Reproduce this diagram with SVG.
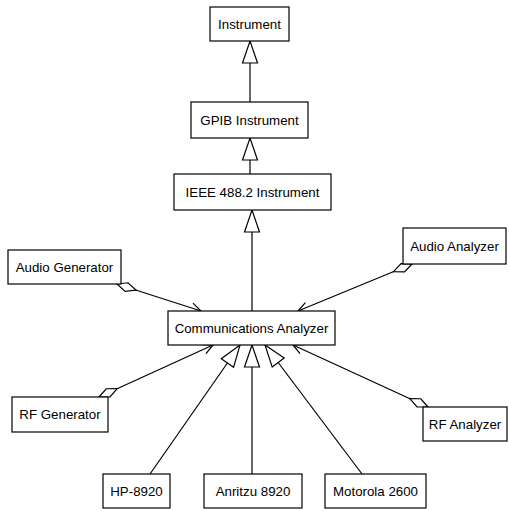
<svg xmlns="http://www.w3.org/2000/svg" width="509" height="511" viewBox="0 0 509 511">
  <style>
    .box { fill: #ffffff; stroke: #000000; stroke-width: 1.2; }
    .lbl { font-family: "Liberation Sans", Arial, sans-serif; font-size: 13.3px; fill: #000000; text-anchor: middle; }
    .gen { fill: none; stroke: #000000; stroke-width: 1.2; marker-end: url(#triangle); }
    .agg { fill: none; stroke: #000000; stroke-width: 1.2; marker-start: url(#diamond); marker-end: url(#arrow); }
  </style>
  <defs>
    <!-- hollow triangle: generalization -->
    <marker id="triangle" markerUnits="userSpaceOnUse" viewBox="0 0 22 15" refX="22" refY="7.5" markerWidth="22" markerHeight="15" orient="auto" overflow="visible">
      <path d="M0,0 L22,7.5 L0,15 Z" fill="#ffffff" stroke="#000000" stroke-width="1.2"/>
    </marker>
    <!-- open arrowhead: navigability -->
    <marker id="arrow" markerUnits="userSpaceOnUse" viewBox="0 0 10 10" refX="10" refY="5" markerWidth="10" markerHeight="10" orient="auto" overflow="visible">
      <path d="M0,0 L10,5 L0,10" fill="none" stroke="#000000" stroke-width="1.2"/>
    </marker>
    <!-- hollow diamond: aggregation -->
    <marker id="diamond" markerUnits="userSpaceOnUse" viewBox="0 0 20 10" refX="0" refY="5" markerWidth="20" markerHeight="10" orient="auto" overflow="visible">
      <path d="M0,5 L10,0.5 L20,5 L10,9.5 Z" fill="#ffffff" stroke="#000000" stroke-width="1.2"/>
    </marker>
  </defs>

  <g id="connectors">
    <line class="gen" x1="250" y1="102" x2="250" y2="41"/>
    <line class="gen" x1="250" y1="174" x2="250" y2="138"/>
    <line class="gen" x1="252" y1="311" x2="252" y2="210"/>
    <line class="gen" x1="150" y1="474" x2="240" y2="345"/>
    <line class="gen" x1="252" y1="474" x2="252" y2="345"/>
    <line class="gen" x1="362" y1="474" x2="265" y2="345"/>
    <line class="agg" x1="117" y1="284" x2="201" y2="311"/>
    <line class="agg" x1="412" y1="264" x2="298" y2="311"/>
    <line class="agg" x1="99" y1="397" x2="213" y2="345"/>
    <line class="agg" x1="428" y1="407" x2="293" y2="345"/>
  </g>

  <g id="instrument">
    <rect class="box" x="210" y="7" width="79" height="34"/>
    <text class="lbl" x="249.5" y="28.5">Instrument</text>
  </g>
  <g id="gpib-instrument">
    <rect class="box" x="191" y="102" width="117" height="36"/>
    <text class="lbl" x="249.5" y="124.5">GPIB Instrument</text>
  </g>
  <g id="ieee-instrument">
    <rect class="box" x="174" y="174" width="157" height="36"/>
    <text class="lbl" x="252.5" y="196.5">IEEE 488.2 Instrument</text>
  </g>
  <g id="communications-analyzer">
    <rect class="box" x="168" y="311" width="167" height="34"/>
    <text class="lbl" x="251.5" y="332.5">Communications Analyzer</text>
  </g>
  <g id="audio-generator">
    <rect class="box" x="8" y="250" width="113" height="34"/>
    <text class="lbl" x="64.5" y="271.5">Audio Generator</text>
  </g>
  <g id="audio-analyzer">
    <rect class="box" x="403" y="228" width="103" height="36"/>
    <text class="lbl" x="454.5" y="250.5">Audio Analyzer</text>
  </g>
  <g id="rf-generator">
    <rect class="box" x="12" y="397" width="96" height="35"/>
    <text class="lbl" x="60" y="419">RF Generator</text>
  </g>
  <g id="rf-analyzer">
    <rect class="box" x="423" y="407" width="84" height="34"/>
    <text class="lbl" x="465" y="428.5">RF Analyzer</text>
  </g>
  <g id="hp-8920">
    <rect class="box" x="103" y="474" width="67" height="34"/>
    <text class="lbl" x="136.5" y="495.5">HP-8920</text>
  </g>
  <g id="anritzu-8920">
    <rect class="box" x="204" y="474" width="98" height="34"/>
    <text class="lbl" x="253" y="495.5">Anritzu 8920</text>
  </g>
  <g id="motorola-2600">
    <rect class="box" x="325" y="474" width="101" height="34"/>
    <text class="lbl" x="375.5" y="495.5">Motorola 2600</text>
  </g>
</svg>
